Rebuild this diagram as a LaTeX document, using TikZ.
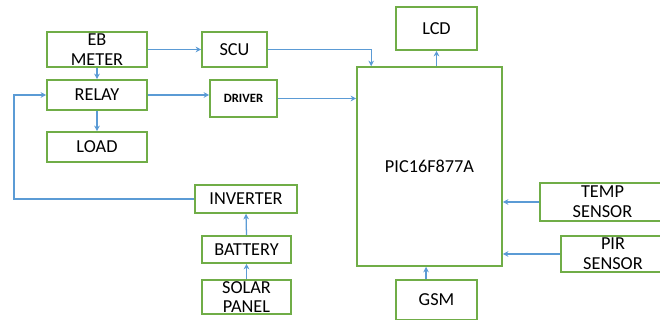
\documentclass[tikz,border=0pt]{standalone}
\usepackage{fontspec}
\setmainfont{Carlito}
\usetikzlibrary{arrows.meta}
\definecolor{boxgreen}{HTML}{70AD47}
\definecolor{linkblue}{HTML}{5B9BD5}

\begin{document}
\begin{tikzpicture}[x=0.025cm,y=-0.025cm,>={Stealth[length=4pt,width=4pt]},
  font=\fontsize{13}{14}\selectfont,
  blk/.style={draw=boxgreen,line width=1.1pt,inner sep=0pt,align=center},
  link/.style={->,draw=linkblue,line width=0.9pt}]
\useasboundingbox (0,0) rectangle (660,320);
% blocks
\node[blk,minimum width=100*0.025cm,minimum height=35*0.025cm] (eb) at (97,49.5) {EB\\METER};
\node[blk,minimum width=65*0.025cm,minimum height=35*0.025cm] (scu) at (234.5,49.5) {SCU};
\node[blk,minimum width=100*0.025cm,minimum height=30*0.025cm] (relay) at (97,95) {RELAY};
\node[blk,minimum width=67*0.025cm,minimum height=37*0.025cm,font=\fontsize{9}{10}\selectfont\bfseries] (drv) at (243.5,98.5) {DRIVER};
\node[blk,minimum width=100*0.025cm,minimum height=30*0.025cm] (load) at (97,147) {LOAD};
\node[blk,minimum width=102*0.025cm,minimum height=28*0.025cm] (inv) at (246,199) {INVERTER};
\node[blk,minimum width=89*0.025cm,minimum height=27*0.025cm] (bat) at (246.5,249.5) {BATTERY};
\node[blk,minimum width=89*0.025cm,minimum height=34*0.025cm] (solar) at (246.5,297) {SOLAR\\PANEL};
\node[blk,minimum width=81*0.025cm,minimum height=43*0.025cm] (lcd) at (436.5,28.5) {LCD};
\node[blk,minimum width=145*0.025cm,minimum height=199*0.025cm] (pic) at (429.5,166.5) {PIC16F877A};
\node[blk,minimum width=125*0.025cm,minimum height=38*0.025cm] (temp) at (602.5,202) {TEMP\\SENSOR};
\node[blk,minimum width=104*0.025cm,minimum height=36*0.025cm] (pir) at (613,254) {PIR\\SENSOR};
\node[blk,minimum width=81*0.025cm,minimum height=40*0.025cm] (gsm) at (436.5,300) {GSM};
\coordinate (loop) at (14,150);
% links
\draw[link] (eb.east) -- (scu.west);
\draw[link] (eb.south) -- (relay.north);
\draw[link,line width=1.6pt] (relay.east) -- (relay.east -| drv.west);
\draw[link] (relay.south) -- (load.north);
\draw[link] (scu.east) -| ([xshift=0.375cm]pic.north west);
\draw[link] (drv.east) -- (drv.east -| pic.west);
\draw[link] (pic.north -| lcd.south) -- (lcd.south);
\draw[link,line width=1.6pt] (temp.west) -- (temp.west -| pic.east);
\draw[link] (pir.west) -- (pir.west -| pic.east);
\draw[link] ([xshift=-0.26cm]gsm.north) -- ([xshift=-0.26cm]gsm.north |- pic.south);
\draw[link] (solar.north) -- (bat.south);
\draw[link] (bat.north) -- (inv.south);
\draw[link,line width=1.4pt] (inv.west) -| (loop) |- (relay.west);
\end{tikzpicture}
\end{document}
